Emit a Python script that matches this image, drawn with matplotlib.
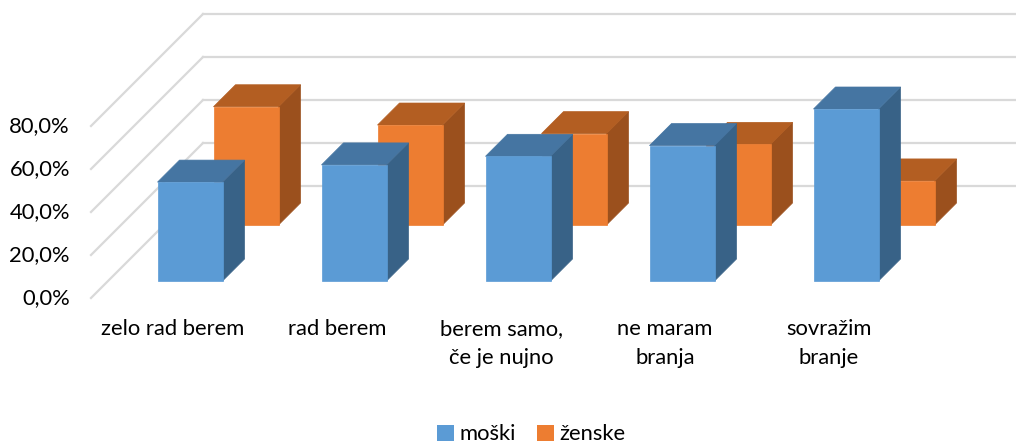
import matplotlib.pyplot as plt
from matplotlib.patches import Polygon, Patch

categories = ["zelo rad berem", "rad berem", "berem samo,\nče je nujno", "ne maram\nbranja", "sovražim\nbranje"]
moski = [46.0, 54.0, 58.0, 63.0, 80.0]
zenske = [55.0, 46.5, 42.5, 37.5, 20.5]
yticks = [0, 20, 40, 60, 80]
series_names = ["moški", "ženske"]

plt.rcParams['font.family'] = ['Lato', 'DejaVu Sans']

# oblique "3D" frame, in pixels of the 1016x444 canvas
x0, y0 = 91, 298          # front-left corner of floor
slot = 164                # width of one category
ppu = 43 / 20.0           # pixels per percent
depth = 112               # full depth of chart box
row = depth / 2.0
bar_w = 65
bar_d = 22
fs = 15.8


def proj(x, z, v):
    # x along categories (px), z depth (px), v value (%)
    return (x0 + x + z, y0 - v * ppu - z)


fig = plt.figure(figsize=(10.16, 4.44), dpi=100)
ax = fig.add_axes([0, 0, 1, 1])
ax.set_xlim(0, 1016)
ax.set_ylim(444, 0)
ax.axis('off')

grid_c = '#d9d9d9'
for t in yticks:
    xa, ya = proj(0, 0, t)
    xb, yb = proj(0, depth, t)
    ax.plot([xa, xb], [ya, yb], color=grid_c, lw=1.6, zorder=1)
    ax.plot([xb, 1016], [yb, yb], color=grid_c, lw=1.6, zorder=1)
    ax.text(70, ya, f"{t:.1f}".replace('.', ',') + "%", ha='right', va='center',
            fontsize=fs, color='#000000')

colors = [('#5b9bd5', '#4575a2', '#386287'), ('#ed7d31', '#b35e22', '#9b501d')]


def draw_bar(k, i, v, cols):
    front, top, side = cols
    xl = (k + 0.5) * slot - bar_w / 2.0
    xr = xl + bar_w
    z1 = row * i + (row - bar_d) / 2.0
    z2 = z1 + bar_d
    f = [proj(xl, z1, 0), proj(xr, z1, 0), proj(xr, z1, v), proj(xl, z1, v)]
    tp = [proj(xl, z1, v), proj(xr, z1, v), proj(xr, z2, v), proj(xl, z2, v)]
    sd = [proj(xr, z1, 0), proj(xr, z2, 0), proj(xr, z2, v), proj(xr, z1, v)]
    zo = 10 - i * 5
    for pts, c in ((sd, side), (tp, top), (f, front)):
        ax.add_patch(Polygon(pts, closed=True, facecolor=c, edgecolor=c, lw=0.5, zorder=zo))


for i, vals in ((1, zenske), (0, moski)):
    for k, v in enumerate(vals):
        draw_bar(k, i, v, colors[i])

for k, lab in enumerate(categories):
    ax.text(x0 + (k + 0.5) * slot, 319, lab, ha='center', va='top',
            fontsize=fs, linespacing=1.55, color='#000000')

handles = [Patch(facecolor=colors[0][0]), Patch(facecolor=colors[1][0])]
fig.legend(handles, series_names, loc='lower center', bbox_to_anchor=(0.523, -0.045),
           ncol=2, frameon=False, fontsize=fs, handlelength=0.75, handleheight=0.75,
           handletextpad=0.25, columnspacing=1.0)

fig.savefig("out.png", dpi=100)
